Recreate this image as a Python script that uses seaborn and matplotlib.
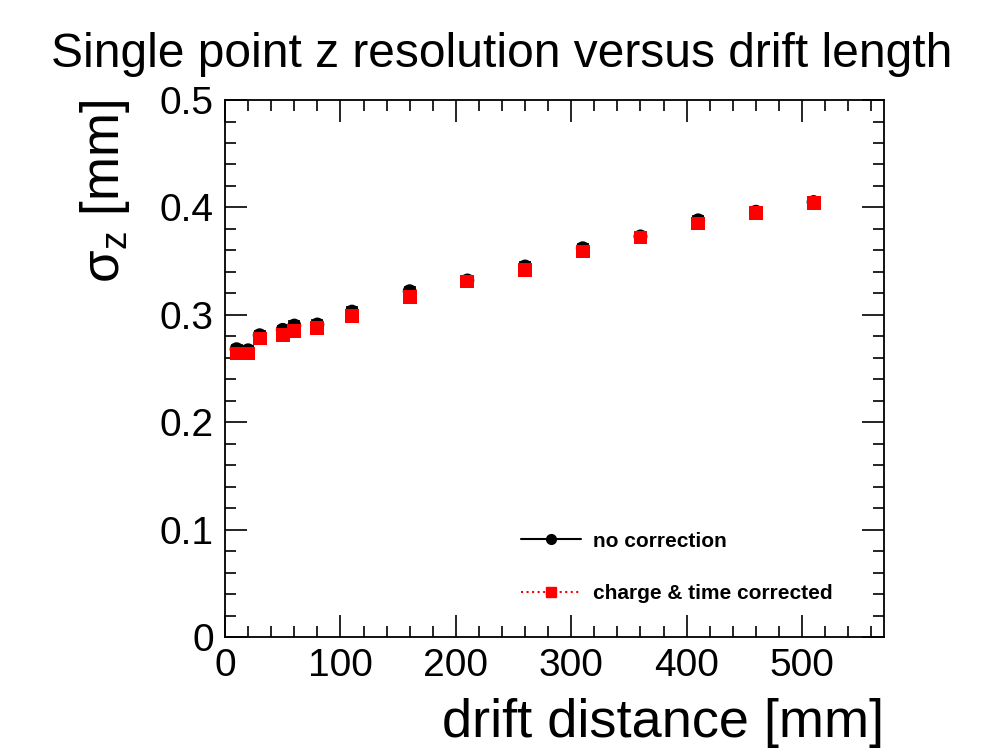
import matplotlib
matplotlib.use("Agg")
import matplotlib.pyplot as plt
import seaborn as sns
import pandas as pd
import numpy as np
from matplotlib.lines import Line2D
from matplotlib.ticker import MultipleLocator

drift = [10, 20, 30, 50, 60, 80, 110, 160, 210, 260, 310, 360, 410, 460, 510]
sigma_nocorr = [0.268, 0.267, 0.281, 0.286, 0.290, 0.291, 0.303, 0.322, 0.332,
                0.345, 0.362, 0.373, 0.388, 0.396, 0.405]
sigma_corr = [0.264, 0.264, 0.278, 0.281, 0.285, 0.288, 0.299, 0.317, 0.331,
              0.342, 0.359, 0.372, 0.385, 0.395, 0.404]
err_nocorr = [0.004] * 15
err_corr = [0.003] * 15
labels = ["no correction", "charge & time corrected"]

sns.set_style("ticks")
plt.rcParams['font.family'] = ['Liberation Sans', 'DejaVu Sans']
plt.rcParams.update({'text.color': 'black', 'axes.labelcolor': 'black',
                     'xtick.color': 'black', 'ytick.color': 'black',
                     'mathtext.fontset': 'custom', 'mathtext.rm': 'Liberation Sans'})

fig = plt.figure(figsize=(9.94, 7.55), dpi=100)
ax = fig.add_axes([0.2264, 0.1563, 0.6629, 0.7112])

df = pd.DataFrame({"drift": drift + drift,
                   "sigma": sigma_nocorr + sigma_corr,
                   "series": [labels[0]] * len(drift) + [labels[1]] * len(drift)})

ax.errorbar(drift, sigma_nocorr, yerr=err_nocorr, fmt='none', ecolor='black',
            elinewidth=1.2, capsize=4, capthick=1.2, zorder=2)
ax.errorbar(drift, sigma_corr, yerr=err_corr, fmt='none', ecolor='red',
            elinewidth=1.2, capsize=4, capthick=1.2, zorder=3)
sns.scatterplot(data=df, x="drift", y="sigma", hue="series", style="series",
                palette={labels[0]: "black", labels[1]: "red"},
                markers={labels[0]: "o", labels[1]: "s"},
                s=100, linewidth=0, ax=ax, legend=False, zorder=4)

ax.set_xlim(0, 571)
ax.set_ylim(0, 0.5)
ax.xaxis.set_major_locator(MultipleLocator(100))
ax.xaxis.set_minor_locator(MultipleLocator(20))
ax.yaxis.set_major_locator(MultipleLocator(0.1))
ax.yaxis.set_minor_locator(MultipleLocator(0.02))
ax.yaxis.set_major_formatter(matplotlib.ticker.FuncFormatter(lambda v, p: "0" if abs(v) < 1e-9 else f"{v:.1f}"))
ax.tick_params(which='both', direction='in', top=True, right=True, width=1.2,
               labelsize=28, pad=8)
ax.tick_params(which='major', length=16)
ax.tick_params(which='minor', length=8)
for sp in ax.spines.values():
    sp.set_linewidth(1.3)
    sp.set_color('black')

ax.set_xlabel("drift distance [mm]", fontsize=39, loc='right', labelpad=10)
ax.set_ylabel(r"σ$_{\mathrm{z}}$ [mm]", fontsize=38, loc='top', labelpad=20)
fig.text(0.505, 0.958, "Single point z resolution versus drift length", fontsize=34.5,
         ha='center', va='top')

handles = [Line2D([0], [0], color='black', lw=1.5, marker='o', markersize=7),
           Line2D([0], [0], color='red', lw=1.5, ls=':', marker='s', markersize=7)]
leg = ax.legend(handles, labels, loc='lower left', bbox_to_anchor=(0.433, 0.044),
                frameon=False, prop={'weight': 'bold', 'size': 15}, borderpad=0,
                labelspacing=1.6, handlelength=2.9, handletextpad=0.55)

fig.savefig("out.png", dpi=100)
